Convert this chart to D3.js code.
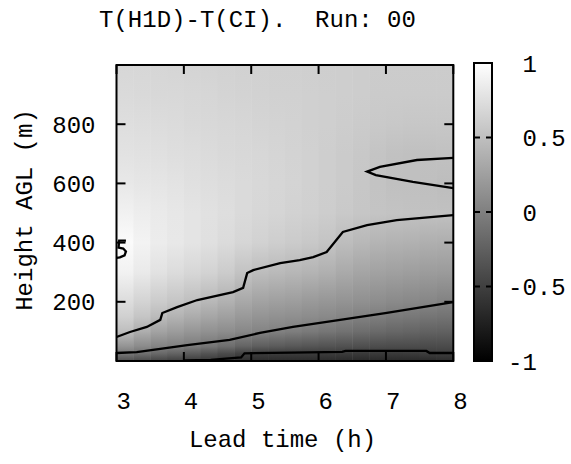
<!DOCTYPE html>
<html>
<head>
<meta charset="utf-8">
<script src="https://cdn.jsdelivr.net/npm/d3@7"></script>
<style>
body{margin:0;background:#fff;}
svg text{font-family:"Liberation Mono","DejaVu Sans Mono",monospace;font-size:24px;fill:#000;}
</style>
</head>
<body>
<div id="chart"></div>
<script>
// lead time of each data column (h)
var leadTimes = [3,3.5,4,4.5,5,5.5,6,6.5,7,7.5,8];
// height of each data row (m)
var heights = [0,25,50,100,150,200,300,400,500,600,700,800,900,1000];
// T(H1D)-T(CI), one list per lead time, from bottom to top
var diffCols = [
  [-0.36,-0.03,0.20,0.55,0.68,0.76,0.93,1.00,0.90,0.83,0.78,0.74,0.71,0.69],
  [-0.45,-0.15,0.05,0.30,0.50,0.62,0.80,0.87,0.85,0.80,0.76,0.73,0.70,0.68],
  [-0.52,-0.25,0.00,0.20,0.37,0.52,0.70,0.80,0.80,0.77,0.74,0.71,0.69,0.67],
  [-0.58,-0.38,-0.10,0.12,0.28,0.42,0.64,0.74,0.75,0.73,0.71,0.69,0.67,0.65],
  [-0.66,-0.52,-0.25,0.05,0.17,0.28,0.49,0.66,0.70,0.70,0.69,0.67,0.65,0.64],
  [-0.67,-0.53,-0.30,0.00,0.13,0.24,0.45,0.60,0.66,0.67,0.66,0.65,0.64,0.63],
  [-0.67,-0.53,-0.34,-0.06,0.09,0.19,0.40,0.56,0.62,0.63,0.63,0.63,0.63,0.62],
  [-0.68,-0.54,-0.37,-0.12,0.03,0.14,0.31,0.46,0.56,0.58,0.58,0.60,0.61,0.61],
  [-0.69,-0.55,-0.40,-0.18,-0.03,0.09,0.26,0.40,0.53,0.51,0.52,0.57,0.59,0.60],
  [-0.68,-0.53,-0.41,-0.22,-0.07,0.06,0.23,0.38,0.52,0.50,0.50,0.56,0.59,0.60],
  [-0.66,-0.51,-0.41,-0.25,-0.11,0.01,0.21,0.36,0.51,0.48,0.52,0.56,0.59,0.60]
];
var xTicks = [3,4,5,6,7,8];
var yTicks = [200,400,600,800];
var cbTicks = [1,0.5,0,-0.5,-1];

// contour lines, [lead time, height]
var contour05 = [[3.0,81],[3.2,98],[3.45,115],[3.65,139],[3.68,162],[3.9,182],[4.2,206],[4.73,233],[4.88,247],[4.94,297],[5.03,307],[5.43,331],[5.72,341],[5.92,351],[6.12,368],[6.36,436],[6.72,459],[7.16,476],[8.0,493]];
var contour05b = [[8.0,686],[7.46,679],[6.91,656],[6.72,640],[6.85,628],[7.4,605],[8.0,584]];
var contour0 = [[3.0,27],[3.3,30],[3.65,41],[4.05,54],[4.68,71],[5.13,95],[5.62,115],[6.32,139],[6.99,162],[8.0,199]];
var contourM05 = [[4.0,2],[4.4,4],[4.85,12],[4.9,26],[5.6,28],[6.35,31],[6.4,34],[7.6,34],[7.65,27],[8.0,27]];
var contour1 = [[3.14,407],[3.04,407],[3.03,383],[3.1,380],[3.14,370],[3.12,357],[3.05,350],[3.0,348]];

var W = 571, H = 464;
var margin = {top: 65, right: 117.7, bottom: 103, left: 116.5};
var width = W - margin.left - margin.right;
var height = H - margin.top - margin.bottom;

var svg = d3.select("#chart").append("svg")
  .attr("width", W)
  .attr("height", H);
var defs = svg.append("defs");

var x = d3.scaleLinear().domain([3, 8]).range([0, width]);
var y = d3.scaleLinear().domain([0, 1000]).range([height, 0]);
// gnuplot gray palette
var grey = d3.scaleLinear().domain([-1, 1]).range(["#000", "#fff"]).clamp(true);
function fmt(d){ return (d < 0 ? "" : "\u00a0") + d; }

var plot = svg.append("g").attr("transform", `translate(${margin.left},${margin.top})`);

// pm3d cells: each interval between two columns drawn as two strips,
// weighted toward the nearer column
var nSub = 2;
var bandId = 0;
for (var i = 0; i < leadTimes.length - 1; i++) {
  for (var s = 0; s < nSub; s++) {
    var w = (s + 0.5) / nSub;
    var t0 = leadTimes[i] + (leadTimes[i+1] - leadTimes[i]) * s / nSub;
    var t1 = leadTimes[i] + (leadTimes[i+1] - leadTimes[i]) * (s + 1) / nSub;
    var g = defs.append("linearGradient")
      .attr("id", "band" + bandId)
      .attr("gradientUnits", "userSpaceOnUse")
      .attr("x1", 0).attr("x2", 0)
      .attr("y1", y(0)).attr("y2", y(1000));
    heights.forEach(function(h, k){
      g.append("stop")
        .attr("offset", h / 1000)
        .attr("stop-color", grey(diffCols[i][k] * (1 - w) + diffCols[i+1][k] * w));
    });
    plot.append("rect")
      .attr("x", x(t0))
      .attr("y", 0)
      .attr("width", x(t1) - x(t0) + 0.5)
      .attr("height", height)
      .attr("fill", "url(#band" + bandId + ")");
    bandId++;
  }
}

// contours
var line = d3.line().x(d => x(d[0])).y(d => y(d[1]));
[contour05, contour05b, contour0, contourM05, contour1].forEach(function(c){
  plot.append("path")
    .attr("d", line(c))
    .attr("fill", "none")
    .attr("stroke", "#000")
    .attr("stroke-width", 2.3);
});

// ticks on all four sides
var tl = 9;
xTicks.forEach(function(t){
  plot.append("line").attr("x1", x(t)).attr("x2", x(t)).attr("y1", height).attr("y2", height - tl)
    .attr("stroke", "#000").attr("stroke-width", 2);
  plot.append("line").attr("x1", x(t)).attr("x2", x(t)).attr("y1", 0).attr("y2", tl)
    .attr("stroke", "#000").attr("stroke-width", 2);
  plot.append("text")
    .attr("x", x(t))
    .attr("y", height + 48)
    .attr("text-anchor", "middle")
    .text(fmt(t));
});
yTicks.forEach(function(t){
  plot.append("line").attr("x1", 0).attr("x2", tl).attr("y1", y(t)).attr("y2", y(t))
    .attr("stroke", "#000").attr("stroke-width", 2);
  plot.append("line").attr("x1", width).attr("x2", width - tl).attr("y1", y(t)).attr("y2", y(t))
    .attr("stroke", "#000").attr("stroke-width", 2);
  plot.append("text")
    .attr("x", -21)
    .attr("y", y(t) + 8.5)
    .attr("text-anchor", "end")
    .text(fmt(t));
});

plot.append("rect")
  .attr("width", width).attr("height", height)
  .attr("fill", "none").attr("stroke", "#000").attr("stroke-width", 2);

// axis labels and title
svg.append("text")
  .attr("x", 282.5).attr("y", 447)
  .attr("text-anchor", "middle")
  .text("Lead time (h)");
svg.append("text")
  .attr("transform", "translate(32,210) rotate(-90)")
  .attr("text-anchor", "middle")
  .text("Height AGL (m)");
svg.append("text")
  .attr("x", 257.5).attr("y", 27)
  .attr("text-anchor", "middle")
  .text("T(H1D)-T(CI).\u00a0\u00a0Run: 00");

// colour box
var cb = d3.scaleLinear().domain([-1, 1]).range([361, 63]);
var cg = defs.append("linearGradient")
  .attr("id", "cbgrad")
  .attr("x1", 0).attr("x2", 0).attr("y1", 1).attr("y2", 0);
cg.append("stop").attr("offset", 0).attr("stop-color", grey(-1));
cg.append("stop").attr("offset", 1).attr("stop-color", grey(1));
var cbx = 474, cbw = 18;
svg.append("rect")
  .attr("x", cbx).attr("y", cb(1))
  .attr("width", cbw).attr("height", cb(-1) - cb(1))
  .attr("fill", "url(#cbgrad)")
  .attr("stroke", "#000").attr("stroke-width", 2);
cbTicks.forEach(function(t){
  if (t > -1 && t < 1) {
    svg.append("line").attr("x1", cbx).attr("x2", cbx + 6).attr("y1", cb(t)).attr("y2", cb(t))
      .attr("stroke", "#000").attr("stroke-width", 2);
    svg.append("line").attr("x1", cbx + cbw - 6).attr("x2", cbx + cbw).attr("y1", cb(t)).attr("y2", cb(t))
      .attr("stroke", "#000").attr("stroke-width", 2);
  }
  svg.append("text")
    .attr("x", 508)
    .attr("y", cb(t) + 8.5)
    .text(fmt(t));
});
</script>
</body>
</html>
